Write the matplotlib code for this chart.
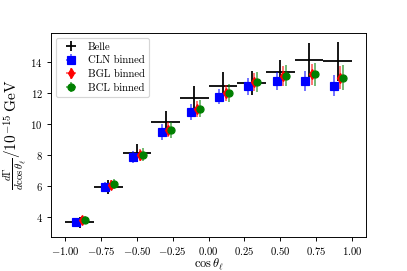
import numpy as np
import matplotlib
matplotlib.use("Agg")
import matplotlib.pyplot as plt

plt.rcParams["font.family"] = "serif"
plt.rcParams["font.serif"] = ["cmr10"]
plt.rcParams["mathtext.fontset"] = "cm"
plt.rcParams["axes.formatter.use_mathtext"] = True

# bin centres in cos(theta_l), width 0.2
bins = [-0.9, -0.7, -0.5, -0.3, -0.1, 0.1, 0.3, 0.5, 0.7, 0.9]
bin_half = 0.1

belle = [3.66, 5.93, 8.15, 10.17, 11.70, 12.47, 12.67, 13.36, 14.15, 14.08]
belle_err = [0.35, 0.45, 0.60, 0.68, 0.75, 0.90, 0.75, 0.80, 1.10, 1.25]

cln = [3.68, 5.98, 7.87, 9.50, 10.80, 11.78, 12.45, 12.78, 12.82, 12.50]
cln_err = [0.25, 0.30, 0.39, 0.49, 0.50, 0.48, 0.56, 0.57, 0.65, 0.68]

bgl = [3.80, 6.08, 8.02, 9.66, 11.00, 12.02, 12.73, 13.12, 13.22, 13.02]
bgl_err = [0.25, 0.32, 0.40, 0.50, 0.52, 0.53, 0.60, 0.65, 0.70, 0.73]

bcl = [3.83, 6.12, 8.04, 9.66, 11.00, 12.02, 12.73, 13.15, 13.22, 13.02]
bcl_err = [0.26, 0.33, 0.42, 0.52, 0.55, 0.56, 0.63, 0.68, 0.75, 0.80]

x = np.array(bins)
dpi = 85
fig, ax = plt.subplots(figsize=(407 / dpi, 271 / dpi), dpi=dpi)
fig.subplots_adjust(left=0.125, right=0.9, top=0.88, bottom=0.125)

ax.errorbar(x, belle, xerr=bin_half, yerr=belle_err, fmt="none",
            ecolor="k", elinewidth=1.5, label="Belle")
ax.errorbar(x - 0.025, cln, xerr=0, yerr=cln_err, fmt="s", color="b",
            ecolor=(0, 0, 1, 0.6), elinewidth=1.5, ms=6, label="CLN binned")
ax.errorbar(x + 0.02, bgl, xerr=0, yerr=bgl_err, fmt="d", color="r",
            ecolor=(1, 0, 0, 0.6), elinewidth=1.5, ms=6, label="BGL binned")
ax.errorbar(x + 0.04, bcl, xerr=0, yerr=bcl_err, fmt="o", color="g",
            ecolor=(0, 0.5, 0, 0.6), elinewidth=1.5, ms=6, label="BCL binned")

ax.tick_params(labelsize=9)
ax.set_xlabel(r"$\cos\theta_\ell$", fontsize=10.5, labelpad=-1)
ax.set_ylabel(r"$\frac{d\Gamma}{d\cos\theta_\ell}/10^{-15}\,\mathrm{GeV}$",
              fontsize=13, labelpad=1)
ax.legend(loc="upper left", fontsize=9, handlelength=2.0, borderpad=0.4,
          labelspacing=0.4, handletextpad=0.6, borderaxespad=0.5)

fig.savefig("out.png")
